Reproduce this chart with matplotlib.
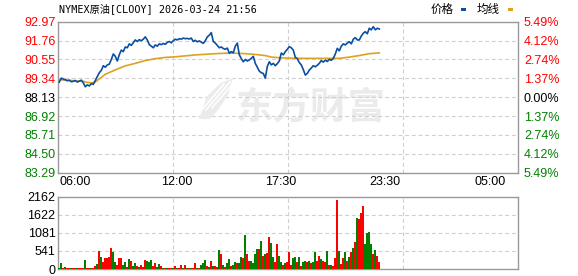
import matplotlib
matplotlib.use("Agg")
import matplotlib.pyplot as plt
from matplotlib.patches import Rectangle, Polygon
import numpy as np

# ---------------- data ----------------
title = "NYMEX原油[CLOOY] 2026-03-24 21:56"
grid_minutes = [0, 345, 690, 1035, 1380]
x_label_minutes = [50, 356, 668, 980, 1295]
x_tick_labels = ["06:00", "12:00", "17:30", "23:30", "05:00"]
price_ticks = [83.29, 84.50, 85.71, 86.92, 88.13, 89.34, 90.55, 91.76, 92.97]
pct_labels = ["5.49%", "4.12%", "2.74%", "1.37%", "0.00%", "1.37%", "2.74%", "4.12%", "5.49%"]
prev_close = 88.13
vol_ticks = [0, 541, 1081, 1622, 2162]
bin_minutes = 6  # each value below covers 6 minutes, starting 06:00

price = [
    89.10, 89.35, 89.30, 89.25, 89.18, 89.22, 89.12, 89.15, 89.20, 89.10,
    89.16, 89.22, 89.05, 88.80, 88.92, 88.85, 89.00, 88.95, 89.20, 89.45,
    89.70, 89.85, 90.15, 90.05, 90.20, 90.25, 90.55, 90.90, 90.75, 90.45,
    90.85, 91.15, 91.05, 91.35, 91.30, 91.55, 91.45, 91.62, 91.80, 91.70,
    91.82, 91.75, 91.85, 92.00, 91.80, 91.50, 91.40, 91.30, 91.48, 91.40,
    91.55, 91.50, 91.58, 91.52, 91.65, 91.70, 91.62, 91.75, 91.85, 91.80,
    91.88, 91.85, 91.92, 91.88, 91.90, 91.86, 91.92, 91.70, 91.78, 91.68,
    91.74, 91.66, 91.58, 91.75, 92.00, 92.10, 92.27, 91.70, 91.60, 91.45,
    91.30, 91.35, 91.25, 91.20, 91.28, 90.95, 91.05, 90.98, 91.40, 91.60,
    90.85, 90.60, 90.40, 90.55, 90.45, 90.52, 90.62, 90.75, 90.30, 90.05,
    89.80, 89.70, 89.65, 89.35, 90.10, 90.40, 90.20, 90.30, 90.15, 90.28,
    90.45, 90.96, 90.85, 91.05, 91.20, 91.37, 91.30, 91.15, 90.68, 90.60,
    90.35, 90.20, 89.90, 89.55, 89.65, 89.87, 90.00, 90.15, 90.08, 90.18,
    90.30, 90.48, 90.38, 90.50, 90.42, 90.55, 90.50, 90.62, 90.90, 91.26,
    91.10, 91.40, 91.55, 91.48, 91.60, 91.69, 91.55, 91.85, 91.95, 91.80,
    91.80, 92.05, 92.23, 92.33, 92.20, 92.55, 92.45, 92.65, 92.45, 92.55,
    92.50,
]

avg_bins = [0, 4, 8, 12, 14, 16, 18, 20, 23, 28, 33, 38, 43, 48, 53, 58, 63, 68,
            73, 78, 83, 88, 93, 98, 103, 106, 110, 115, 120, 130, 140, 145, 150, 155, 160]
avg_price = [89.25, 89.22, 89.18, 89.15, 89.08, 89.05, 89.10, 89.30, 89.60, 89.88,
             90.14, 90.30, 90.48, 90.60, 90.68, 90.72, 90.78, 90.84, 90.88, 90.92,
             90.95, 90.95, 90.92, 90.87, 90.80, 90.70, 90.66, 90.63, 90.62, 90.62,
             90.62, 90.70, 90.80, 90.92, 90.97]

volume = [
    30, 180, 20, 50, 20, 20, 30, 20, 20, 20,
    20, 20, 30, 270, 20, 20, 30, 20, 100, 150,
    550, 350, 220, 330, 320, 350, 630, 500, 200, 130,
    330, 330, 130, 200, 70, 300, 250, 100, 180, 100,
    60, 130, 50, 270, 230, 200, 280, 100, 180, 60,
    150, 100, 40, 30, 20, 20, 20, 30, 100, 30,
    20, 130, 30, 130, 30, 20, 20, 30, 180, 20,
    40, 130, 170, 270, 100, 60, 250, 100, 100, 60,
    570, 450, 130, 60, 180, 300, 100, 130, 200, 170,
    180, 370, 330, 1020, 450, 230, 230, 180, 450, 600,
    600, 850, 400, 450, 470, 970, 780, 370, 200, 750,
    400, 200, 130, 170, 200, 500, 130, 330, 350, 200,
    370, 100, 200, 250, 200, 250, 180, 200, 500, 250,
    400, 300, 250, 200, 550, 130, 130, 100, 330, 2050,
    550, 150, 330, 500, 250, 350, 500, 630, 800, 1530,
    1500, 1670, 1870, 750, 1070, 1100, 750, 450, 580, 400,
    200,
]
vol_up = [  # 1 = red (up), 0 = green (down)
    0, 0, 1, 0, 1, 1, 0, 1, 1, 0,
    1, 1, 1, 0, 1, 1, 0, 1, 1, 0,
    1, 0, 1, 1, 1, 1, 1, 0, 0, 1,
    1, 1, 0, 0, 1, 0, 1, 0, 0, 1,
    0, 1, 1, 1, 0, 0, 0, 1, 1, 0,
    0, 1, 0, 1, 0, 1, 1, 0, 1, 0,
    1, 1, 0, 1, 0, 1, 0, 1, 1, 0,
    1, 0, 0, 0, 1, 0, 1, 0, 1, 1,
    0, 1, 0, 1, 0, 0, 1, 0, 0, 1,
    0, 0, 1, 0, 1, 1, 0, 0, 0, 0,
    1, 0, 1, 0, 1, 1, 0, 0, 1, 1,
    0, 0, 1, 0, 1, 1, 1, 0, 0, 1,
    0, 1, 0, 0, 1, 0, 1, 0, 0, 1,
    1, 0, 1, 1, 0, 1, 0, 1, 1, 1,
    0, 1, 1, 0, 1, 0, 1, 0, 1, 0,
    1, 1, 1, 0, 0, 0, 0, 1, 0, 1,
    1,
]

# ---------------- styling ----------------
W, H = 578, 276
RED, GREEN, BLUE, GOLD = "#FF0000", "#008000", "#0B4FA0", "#DDA21E"
FRAME, GRID = "#9A9A9A", "#CFCFCF"
LFONT = ["Liberation Sans", "DejaVu Sans"]

fig = plt.figure(figsize=(W / 100, H / 100), dpi=100)
fig.patch.set_facecolor("white")

def fx(px):
    return px / W

def fy(py):
    return 1 - py / H

L, R = 58.3, 518.3
ax = fig.add_axes([fx(L), fy(172.7), (R - L) / W, (172.7 - 21.7) / H])
axv = fig.add_axes([fx(L), fy(269.0), (R - L) / W, (269.0 - 196.7) / H])

minutes = bin_minutes / 2 + bin_minutes * np.arange(len(price))
avg_minutes = bin_minutes / 2 + bin_minutes * np.array(avg_bins)

for a in (ax, axv):
    a.set_xlim(grid_minutes[0], grid_minutes[-1])
    for s in a.spines.values():
        s.set_color(FRAME)
        s.set_linewidth(1.0)
    a.set_xticks(grid_minutes)
    a.set_xticklabels([])
    a.grid(True, color=GRID, linewidth=0.8, linestyle=(0, (3.5, 2.5)))
    a.set_axisbelow(True)
    a.tick_params(length=0)

# watermark (logo + text)
logo = Polygon([(fx(199), fy(119)), (fx(207), fy(96)), (fx(221), fy(83)), (fx(233), fy(78)),
                (fx(228), fy(95)), (fx(218), fy(110)), (fx(210), fy(119))],
               closed=True, transform=fig.transFigure, facecolor="#EBEBEB", edgecolor="none", zorder=0)
fig.patches.append(logo)
for k in range(3):
    fig.lines.append(plt.Line2D([fx(200 + 6 * k), fx(224 + 6 * k)], [fy(112 - 2 * k), fy(84 - 2 * k)],
                                transform=fig.transFigure, color="white", linewidth=1.2, zorder=0.5))
ax.patch.set_alpha(0)
axv.patch.set_alpha(0)
ax.text(0.55, 0.43, "东方财富", transform=ax.transAxes, ha="center", va="center",
        fontsize=27, fontweight="bold", color="#EBEBEB", family=["Noto Sans CJK SC"], zorder=0)

# main price panel
ax.set_ylim(price_ticks[0], price_ticks[-1])
ax.set_yticks(price_ticks)
ax.set_yticklabels([f"{v:.2f}" for v in price_ticks], family=LFONT, fontsize=9)
for lab, v in zip(ax.get_yticklabels(), price_ticks):
    lab.set_color(RED if v > prev_close + 1e-6 else (GREEN if v < prev_close - 1e-6 else "black"))
ax.tick_params(axis="y", pad=2)
for m, lab in zip(x_label_minutes, x_tick_labels):
    ax.text(m, -0.06, lab, transform=ax.get_xaxis_transform(), ha="center", va="center",
            family=LFONT, fontsize=9, color="black")

ax.plot(avg_minutes, avg_price, color=GOLD, linewidth=1.2, zorder=3)
ax.plot(minutes, price, color=BLUE, linewidth=1.2, zorder=4)

axr = ax.twinx()
axr.set_ylim(price_ticks[0], price_ticks[-1])
axr.set_yticks(price_ticks)
axr.set_yticklabels(pct_labels[::-1], family=LFONT, fontsize=9)
for lab, v in zip(axr.get_yticklabels(), price_ticks):
    lab.set_color(RED if v > prev_close + 1e-6 else (GREEN if v < prev_close - 1e-6 else "black"))
axr.tick_params(length=0, pad=4)
for s in axr.spines.values():
    s.set_visible(False)

# volume panel
cols = [RED if u else GREEN for u in vol_up]
axv.bar(minutes, volume, width=bin_minutes * 0.85, color=cols, linewidth=0, zorder=3)
axv.set_ylim(vol_ticks[0], vol_ticks[-1])
axv.set_yticks(vol_ticks)
axv.set_yticklabels([str(v) for v in vol_ticks], family=LFONT, fontsize=9, color="black")
axv.tick_params(axis="y", pad=2)

# header
fig.text(fx(59), fy(9), title, ha="left", va="center", fontsize=7.3,
         family=["DejaVu Sans Mono", "Noto Sans CJK SC"], color="black")
fig.text(fx(431), fy(9), "价格", ha="left", va="center", fontsize=8.3,
         family=["Noto Sans CJK SC"], color="black")
fig.text(fx(477), fy(9), "均线", ha="left", va="center", fontsize=8.3,
         family=["Noto Sans CJK SC"], color="black")
fig.patches.append(Rectangle((fx(461), fy(11)), 5 / W, 3 / H, transform=fig.transFigure,
                             facecolor=BLUE, edgecolor="none"))
fig.patches.append(Rectangle((fx(508), fy(11)), 5 / W, 3 / H, transform=fig.transFigure,
                             facecolor=GOLD, edgecolor="none"))

fig.savefig("out.png", dpi=100, facecolor="white")
